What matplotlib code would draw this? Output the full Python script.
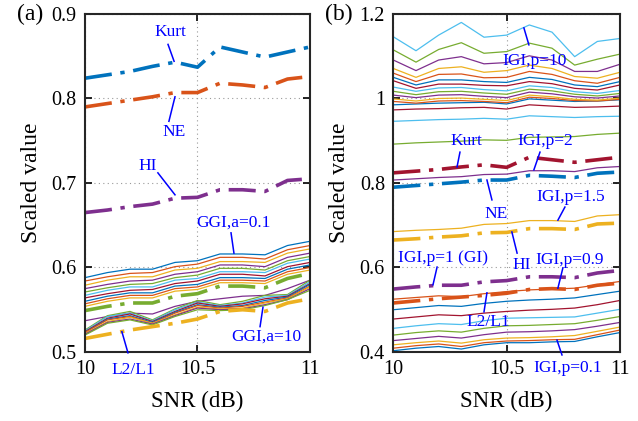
import matplotlib
matplotlib.use("Agg")
import matplotlib.pyplot as plt
import numpy as np

plt.rcParams['font.family'] = ['Liberation Serif', 'DejaVu Serif']
plt.rcParams['mathtext.fontset'] = 'stix'

# MATLAB default colour order
C = ['#0072BD', '#D95319', '#EDB120', '#7E2F8E', '#77AC30', '#4DBEEE', '#A2142F']

SNR = [10.0, 10.1, 10.2, 10.3, 10.4, 10.5, 10.6, 10.7, 10.8, 10.9, 11.0]

# measures shared by both panels
kurt = [0.824, 0.828, 0.832, 0.838, 0.843, 0.837, 0.861, 0.855, 0.849, 0.855, 0.861]
ne = [0.790, 0.794, 0.798, 0.802, 0.807, 0.807, 0.818, 0.816, 0.813, 0.823, 0.826]
hi = [0.665, 0.668, 0.672, 0.675, 0.682, 0.683, 0.692, 0.692, 0.690, 0.703, 0.705]
gi = [0.549, 0.554, 0.558, 0.558, 0.566, 0.569, 0.578, 0.578, 0.576, 0.587, 0.593]
l2l1 = [0.516, 0.521, 0.526, 0.530, 0.534, 0.539, 0.548, 0.550, 0.548, 0.558, 0.563]

# (a) GGI, a = 0.1 ... 10 (top to bottom)
ggi = [
	[0.588, 0.594, 0.598, 0.598, 0.606, 0.608, 0.616, 0.616, 0.615, 0.626, 0.631],
	[0.584, 0.589, 0.593, 0.594, 0.601, 0.604, 0.612, 0.612, 0.610, 0.621, 0.626],
	[0.579, 0.585, 0.589, 0.589, 0.597, 0.599, 0.607, 0.607, 0.606, 0.617, 0.622],
	[0.575, 0.580, 0.584, 0.585, 0.592, 0.595, 0.603, 0.603, 0.601, 0.612, 0.617],
	[0.571, 0.576, 0.580, 0.581, 0.588, 0.591, 0.599, 0.599, 0.597, 0.608, 0.613],
	[0.567, 0.573, 0.577, 0.577, 0.585, 0.587, 0.595, 0.595, 0.594, 0.605, 0.610],
	[0.564, 0.569, 0.573, 0.574, 0.581, 0.584, 0.592, 0.592, 0.590, 0.601, 0.606],
	[0.560, 0.566, 0.570, 0.570, 0.578, 0.580, 0.588, 0.588, 0.587, 0.598, 0.603],
	[0.557, 0.563, 0.567, 0.567, 0.575, 0.577, 0.585, 0.585, 0.584, 0.595, 0.600],
	[0.554, 0.560, 0.564, 0.564, 0.572, 0.574, 0.582, 0.582, 0.581, 0.592, 0.597],
	[0.537, 0.542, 0.546, 0.545, 0.554, 0.560, 0.563, 0.566, 0.567, 0.575, 0.585],
	[0.526, 0.543, 0.548, 0.538, 0.551, 0.561, 0.556, 0.560, 0.567, 0.568, 0.585],
	[0.525, 0.542, 0.546, 0.537, 0.550, 0.559, 0.555, 0.558, 0.565, 0.567, 0.583],
	[0.524, 0.540, 0.545, 0.536, 0.548, 0.558, 0.554, 0.557, 0.563, 0.566, 0.581],
	[0.523, 0.539, 0.543, 0.535, 0.547, 0.556, 0.553, 0.555, 0.561, 0.565, 0.580],
	[0.523, 0.538, 0.542, 0.534, 0.546, 0.555, 0.552, 0.554, 0.559, 0.564, 0.578],
	[0.522, 0.536, 0.541, 0.534, 0.544, 0.553, 0.551, 0.552, 0.558, 0.563, 0.577],
	[0.521, 0.535, 0.539, 0.533, 0.543, 0.552, 0.550, 0.551, 0.556, 0.562, 0.575],
	[0.520, 0.534, 0.538, 0.532, 0.542, 0.550, 0.549, 0.550, 0.555, 0.562, 0.573],
]

# (b) IGI, p = 0.1..0.9, 1.5..10
igi = [
	[0.403, 0.409, 0.413, 0.407, 0.417, 0.422, 0.422, 0.424, 0.425, 0.436, 0.446],
	[0.409, 0.415, 0.419, 0.413, 0.422, 0.426, 0.427, 0.429, 0.430, 0.441, 0.452],
	[0.417, 0.422, 0.426, 0.421, 0.429, 0.433, 0.434, 0.436, 0.439, 0.449, 0.459],
	[0.427, 0.432, 0.437, 0.433, 0.441, 0.447, 0.448, 0.450, 0.453, 0.461, 0.470],
	[0.440, 0.446, 0.450, 0.447, 0.456, 0.462, 0.463, 0.465, 0.467, 0.475, 0.484],
	[0.456, 0.462, 0.467, 0.465, 0.474, 0.480, 0.481, 0.482, 0.483, 0.492, 0.501],
	[0.478, 0.483, 0.488, 0.486, 0.492, 0.496, 0.499, 0.501, 0.504, 0.512, 0.522],
	[0.500, 0.505, 0.510, 0.508, 0.515, 0.520, 0.523, 0.525, 0.528, 0.536, 0.544],
	[0.525, 0.529, 0.533, 0.531, 0.538, 0.543, 0.547, 0.549, 0.551, 0.559, 0.567],
	[0.685, 0.688, 0.690, 0.693, 0.702, 0.704, 0.711, 0.711, 0.709, 0.722, 0.725],
	[0.807, 0.810, 0.813, 0.815, 0.820, 0.821, 0.829, 0.829, 0.827, 0.836, 0.839],
	[0.892, 0.895, 0.897, 0.899, 0.902, 0.901, 0.908, 0.909, 0.910, 0.915, 0.918],
	[0.946, 0.948, 0.950, 0.951, 0.953, 0.951, 0.959, 0.957, 0.955, 0.957, 0.958],
	[0.973, 0.975, 0.976, 0.978, 0.979, 0.975, 0.985, 0.982, 0.979, 0.980, 0.982],
	[0.985, 0.987, 0.989, 0.990, 0.991, 0.987, 0.999, 0.996, 0.993, 0.994, 0.997],
	[0.993, 0.989, 0.994, 0.995, 0.993, 0.990, 1.003, 1.000, 0.995, 0.994, 0.998],
	[0.999, 0.994, 1.000, 1.001, 0.998, 0.995, 1.008, 1.004, 0.998, 0.996, 1.001],
	[1.008, 1.002, 1.008, 1.009, 1.005, 1.002, 1.015, 1.011, 1.004, 1.001, 1.006],
	[1.017, 1.009, 1.016, 1.017, 1.013, 1.010, 1.022, 1.018, 1.010, 1.006, 1.012],
	[1.027, 1.017, 1.025, 1.026, 1.021, 1.018, 1.030, 1.026, 1.016, 1.012, 1.019],
	[1.042, 1.024, 1.034, 1.034, 1.031, 1.030, 1.040, 1.035, 1.024, 1.020, 1.032],
	[1.050, 1.032, 1.044, 1.044, 1.040, 1.038, 1.050, 1.045, 1.032, 1.028, 1.040],
	[1.060, 1.040, 1.057, 1.058, 1.049, 1.050, 1.064, 1.057, 1.042, 1.036, 1.050],
	[1.071, 1.050, 1.071, 1.075, 1.062, 1.066, 1.079, 1.071, 1.052, 1.048, 1.062],
	[1.091, 1.066, 1.091, 1.099, 1.082, 1.085, 1.101, 1.091, 1.064, 1.064, 1.081],
	[1.115, 1.086, 1.116, 1.132, 1.107, 1.111, 1.131, 1.119, 1.079, 1.093, 1.105],
	[1.146, 1.113, 1.150, 1.180, 1.145, 1.150, 1.174, 1.157, 1.099, 1.135, 1.142],
]

# (text, text xy, line start, line end) in data units
notes_a = [
	("Kurt", (10.378, 0.879), (10.369, 0.864), (10.396, 0.844)),
	("NE", (10.396, 0.760), (10.400, 0.802), (10.373, 0.773)),
	("HI", (10.280, 0.720), (10.324, 0.712), (10.400, 0.686)),
	("GGI,a=0.1", (10.658, 0.653), (10.649, 0.641), (10.662, 0.617)),
	("GGI,a=10", (10.804, 0.518), (10.778, 0.530), (10.791, 0.553)),
	("L2/L1", (10.213, 0.479), (10.191, 0.499), (10.164, 0.524)),
]
notes_b = [
	("IGI,p=10", (10.625, 1.089), (10.598, 1.127), (10.576, 1.167)),
	("Kurt", (10.321, 0.899), (10.294, 0.873), (10.281, 0.838)),
	("IGI,p=2", (10.669, 0.899), (10.647, 0.873), (10.620, 0.831)),
	("NE", (10.453, 0.727), (10.413, 0.807), (10.435, 0.760)),
	("IGI,p=1.5", (10.784, 0.767), (10.757, 0.743), (10.726, 0.712)),
	("HI", (10.568, 0.606), (10.546, 0.634), (10.523, 0.684)),
	("IGI,p=1 (GI)", (10.219, 0.622), (10.193, 0.601), (10.175, 0.559)),
	("IGI,p=0.9", (10.779, 0.618), (10.748, 0.599), (10.726, 0.551)),
	("L2/L1", (10.418, 0.471), (10.413, 0.540), (10.400, 0.495)),
	("IGI,p=0.1", (10.771, 0.362), (10.722, 0.428), (10.744, 0.393)),
]

DASHDOT = (7.5, 2.4, 1.2, 2.4)
THIN = 0.9
THICK = 2.6


def style(ax, ylim, yticks, yticklabels, tag):
	ax.set_xlim(10, 11)
	ax.set_ylim(*ylim)
	ax.set_xticks([10, 10.5, 11])
	ax.set_xticklabels(['10', '10.5', '11'])
	ax.set_yticks(yticks)
	ax.set_yticklabels(yticklabels)
	ax.grid(True, linestyle=(0, (1, 3)), color='#999999', linewidth=0.8)
	ax.tick_params(direction='in', top=True, right=True, length=5, width=1.2,
		labelsize=14.5, pad=6)
	for s in ax.spines.values():
		s.set_linewidth(1.5)
		s.set_color('#262626')
	ax.set_xlabel('SNR (dB)', fontsize=16.5, labelpad=8)
	ax.set_ylabel('Scaled value', fontsize=17, labelpad=7)
	ax.text(-0.3, 1.0, tag, transform=ax.transAxes, fontsize=17,
		ha='left', va='center')


def annotate(ax, notes):
	for txt, pos, p0, p1 in notes:
		ax.plot([p0[0], p1[0]], [p0[1], p1[1]], color='#0000FF', lw=1.1,
			clip_on=False, zorder=6)
		ax.text(pos[0], pos[1], txt, color='#0000FF', fontsize=12.5,
			ha='center', va='center', zorder=7)


fig = plt.figure(figsize=(6.38, 4.21), dpi=100)
ax1 = fig.add_axes([0.1332, 0.1639, 0.3527, 0.8029])
ax2 = fig.add_axes([0.6165, 0.1639, 0.3553, 0.8029])

# panel (a)
for i, y in enumerate(ggi):
	ax1.plot(SNR, y, color=C[i % 7], lw=THIN)
for y, c in [(kurt, C[0]), (ne, C[1]), (hi, C[3]), (gi, C[4]), (l2l1, C[2])]:
	ax1.plot(SNR, y, color=c, lw=THICK, dashes=DASHDOT)
style(ax1, (0.5, 0.9), [0.5, 0.6, 0.7, 0.8, 0.9], ['0.5', '0.6', '0.7', '0.8', '0.9'], '(a)')
annotate(ax1, notes_a)

# panel (b)
for i, y in enumerate(igi):
	ax2.plot(SNR, y, color=C[i % 7], lw=THIN)
for y, c in [(kurt, C[6]), (ne, C[0]), (hi, C[2]), (gi, C[3]), (l2l1, C[1])]:
	ax2.plot(SNR, y, color=c, lw=THICK, dashes=DASHDOT)
style(ax2, (0.4, 1.2), [0.4, 0.6, 0.8, 1.0, 1.2], ['0.4', '0.6', '0.8', '1', '1.2'], '(b)')
annotate(ax2, notes_b)

fig.savefig('out.png', dpi=100)
